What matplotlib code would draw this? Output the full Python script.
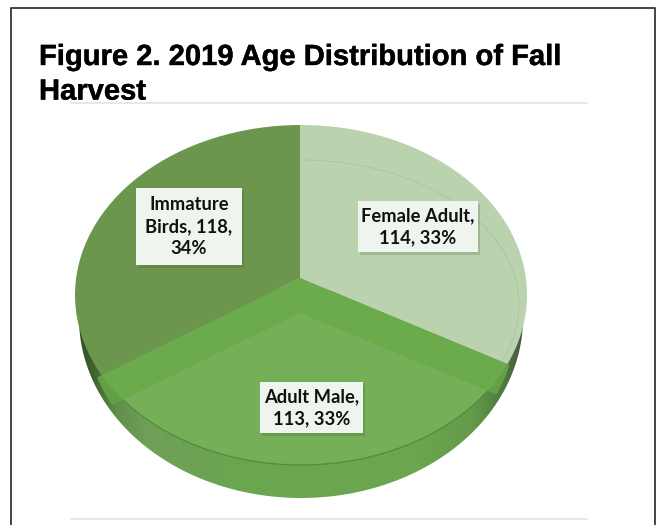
import numpy as np
from matplotlib import pyplot as plt
from matplotlib.colors import LinearSegmentedColormap
from matplotlib.patches import Ellipse, PathPatch, Rectangle
from matplotlib.path import Path
import matplotlib.patheffects as pe

# data
categories = ["Female Adult", "Adult Male", "Immature Birds"]
values = [114, 113, 118]
labels = ["Female Adult,\n114, 33%", "Adult Male,\n113, 33%", "Immature\nBirds, 118,\n34%"]
title = "Figure 2. 2019 Age Distribution of Fall\nHarvest"

SQUASH = 0.75  # the pie is tilted, y is stretched so a circle comes out as an ellipse


def py(p):
    # pixel row of the picture -> data y
    return (525 - p) / SQUASH


def oval(cx, cy, rx, ry):
    return Ellipse((cx, py(cy)), 2 * rx, 2 * ry / SQUASH, transform=ax.transData)


def pie(cy, colors, clip=None, z=1):
    wedges, _ = ax.pie(values, colors=colors, startangle=90, counterclock=False,
                       center=(300, py(cy)), radius=420)
    for w in wedges:
        w.set_zorder(z)
        w.set_linewidth(0)
        if clip is not None:
            w.set_clip_on(True)  # pie turns clipping off
            w.set_clip_path(clip)
    return wedges


fig = plt.figure(figsize=(6.6, 5.25), dpi=100)
ax = fig.add_axes([0, 0, 1, 1])

top = oval(301, 295, 226, 170)
band_clip = oval(301, 318, 216, 180)

# side wall of the pie
wall_cmap = LinearSegmentedColormap.from_list("wall", [
    (0.00, "#2f4a24"), (0.04, "#3f6330"), (0.09, "#5f8f4a"), (0.16, "#6f9f58"),
    (0.35, "#6aa650"), (0.75, "#6ba74f"), (0.88, "#649b4a"), (0.95, "#4f7a40"),
    (0.985, "#4a5a45"), (1.00, "#3c4a35")])
grad = np.linspace(0, 1, 256).reshape(1, -1)
extent = (75, 527, py(500), py(290))
ax.imshow(grad, cmap=wall_cmap, extent=extent, aspect="auto", zorder=0)

# band between the two back slices and the front slice
pie(278, ["none", "#639f47", "none"], clip=band_clip, z=1)
inner = pie(313, ["none", "none", "none"], z=0)
im = ax.imshow(grad, cmap=wall_cmap, extent=extent, aspect="auto", zorder=2)
im.set_clip_path(inner[1])

# white outside the lower ellipse
t = np.linspace(0, 2 * np.pi, 300)
ell = np.column_stack([301 + 222 * np.cos(t), py(318) + 180 / SQUASH * np.sin(t)])
box = np.array([[40, py(510)], [40, py(110)], [570, py(110)], [570, py(510)], [40, py(510)]])
mask = Path(np.vstack([box, ell]),
            [Path.MOVETO] + [Path.LINETO] * 3 + [Path.CLOSEPOLY]
            + [Path.MOVETO] + [Path.LINETO] * 298 + [Path.CLOSEPOLY])
ax.add_patch(PathPatch(mask, facecolor="white", edgecolor="none", zorder=3))

# top face, back slices
pie(278, ["#bad2ae", "#6bab4c", "#6c964e"], clip=top, z=4)
ring = Ellipse((301, py(305)), 2 * 218, 2 * 145 / SQUASH, facecolor="none",
               edgecolor="#5f8a45", linewidth=0.6, alpha=0.18, zorder=4.5)
ax.add_patch(ring)
ring.set_clip_path(top)

# top face, front slice
front = pie(313, ["none", "#75b058", "none"], clip=top, z=5)
rim = Ellipse((301, py(295)), 2 * 226, 2 * 170 / SQUASH, facecolor="none",
              edgecolor="#4f8f35", linewidth=0.9, zorder=5.5)
ax.add_patch(rim)
rim.set_clip_path(front[1])

# data labels, boxes
boxes = [(358, 201, 120, 51), (260, 382, 103, 51), (136, 188, 106, 77)]
for (x, y, w, h), lab in zip(boxes, labels):
    ax.add_patch(Rectangle((x + 2, py(y + h + 3)), w, h / SQUASH, facecolor="#33502a",
                           edgecolor="none", alpha=0.2, zorder=6))
    ax.add_patch(Rectangle((x, py(y + h)), w, h / SQUASH, facecolor="#eff4ee",
                           edgecolor="none", zorder=7))
    ax.text(x + w / 2, py(y + h / 2), lab, ha="center", va="center", family="Lato",
            fontweight="bold", fontsize=13.2, color="#111111", linespacing=1.34, zorder=8)

# title and rules
ax.text(39, py(43), title, ha="left", va="top", family="Liberation Sans", fontweight="bold",
        fontsize=21, color="black", linespacing=1.3, zorder=9,
        path_effects=[pe.withStroke(linewidth=0.3, foreground="black")])
for row in (103, 519):
    ax.plot([71, 587], [py(row), py(row)], color="#e3e3e3", linewidth=1.2, zorder=8)

# frame, open at the bottom
ax.plot([11, 11, 655, 655], [py(526), py(8), py(8), py(526)], color="#444444",
        linewidth=1.4, zorder=9)

ax.set_aspect("auto")
ax.set_xlim(0, 660)
ax.set_ylim(0, 525 / SQUASH)
ax.axis("off")
fig.savefig("out.png", dpi=100)
